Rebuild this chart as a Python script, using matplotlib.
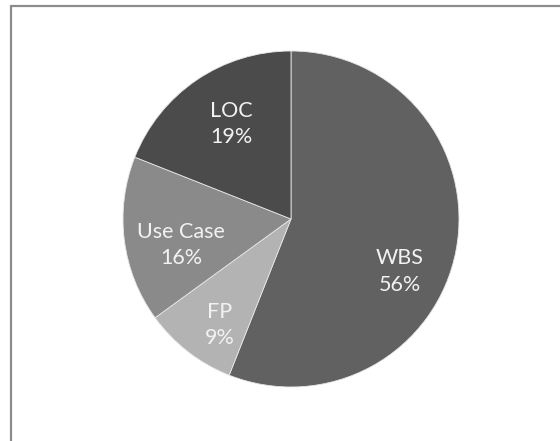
import matplotlib
matplotlib.use("Agg")
import matplotlib.pyplot as plt
import matplotlib.patches as patches
import numpy as np

# data
categories = ["WBS", "FP", "Use Case", "LOC"]
shares = [56, 9, 16, 19]
colors = ["#616161", "#b3b3b3", "#8a8a8a", "#4b4b4b"]

# label nudges (degrees, radius fraction) to mimic the best-fit placement
label_shift = [(-15, 0.72), (4, 0.76), (6, 0.67), (-2, 0.67)]

W, H = 560, 441
fig = plt.figure(figsize=(W / 100, H / 100), dpi=100)
ax = fig.add_axes([0, 0, 1, 1])

cx, cy, r = 291, H - 219, 168

wedges, texts = ax.pie(
    shares,
    colors=colors,
    startangle=90,
    counterclock=False,
    center=(cx, cy),
    radius=r,
    wedgeprops=dict(edgecolor="#e6e6e6", linewidth=0.6),
)

for w, val, name, (dang, rf) in zip(wedges, shares, categories, label_shift):
    mid = np.radians((w.theta1 + w.theta2) / 2 + dang)
    x = cx + rf * r * np.cos(mid)
    y = cy + rf * r * np.sin(mid)
    ax.text(x, y, f"{name}\n{val}%", ha="center", va="center",
            color="#f2f2f2", fontsize=15.5, family="Lato",
            linespacing=1.4)

ax.set_xlim(0, W)
ax.set_ylim(0, H)
ax.set_aspect("equal")
ax.axis("off")

# chart border (runs off right and bottom edges)
fig.patches.append(patches.Rectangle(
    (10.5 / W, -0.1), 1.2, (H - 5.5) / H + 0.1,
    transform=fig.transFigure, fill=False,
    edgecolor="#8c8c8c", linewidth=1.6))

fig.savefig("out.png", dpi=100)
